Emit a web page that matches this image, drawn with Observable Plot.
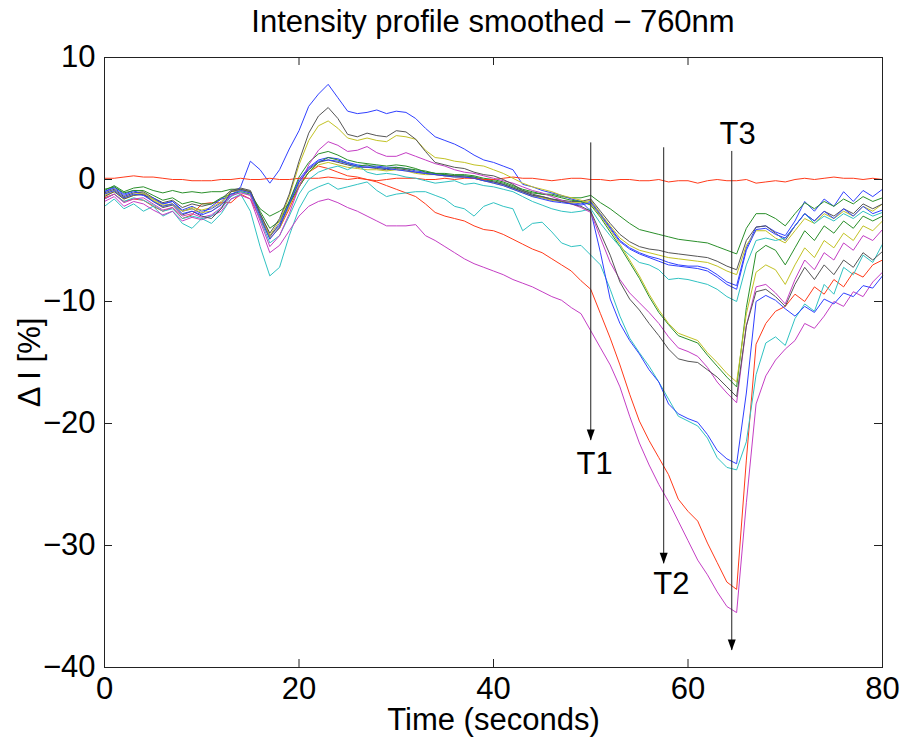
<!DOCTYPE html>
<html>
<head>
<meta charset="utf-8">
<script src="https://cdn.jsdelivr.net/npm/d3@7"></script>
<script src="https://cdn.jsdelivr.net/npm/@observablehq/plot@0.6"></script>
<style>
  html, body { margin: 0; padding: 0; background: #fff; }
  #wrap { width: 900px; height: 742px; position: relative; overflow: hidden; }
  #title { height: 40px; width: 900px; position: relative; }
  #title span { position: absolute; left: 104px; width: 778px; top: 0; line-height: 44px; text-align: center;
    font-family: 'Liberation Sans', Arial, Helvetica, sans-serif; font-size: 31px; color: #000; white-space: nowrap; }
</style>
</head>
<body>
<div id="wrap">
  <div id="title"><span>Intensity profile smoothed − 760nm</span></div>
  <div id="chart"></div>
</div>
<script>
// ---------------- data ----------------
const time = [0,1,2,3,4,5,6,7,8,9,10,11,12,13,14,15,16,17,18,19,20,21,22,23,24,25,26,27,28,29,30,31,32,33,34,35,36,37,38,39,40,41,42,43,44,45,46,47,48,49,50,51,52,53,54,55,56,57,58,59,60,61,62,63,64,65,66,67,68,69,70,71,72,73,74,75,76,77,78,79,80];

const xTicks = [0, 20, 40, 60, 80];
const yTicks = [-40, -30, -20, -10, 0, 10];

// reference channel (flat red)
const refRed = [0.1,0.1,0.2,0.3,0.2,0.2,0.1,0.0,0.0,-0.1,
 -0.1,-0.1,0.0,0.0,0.1,0.0,0.0,0.1,0.0,0.0,
 0.1,0.1,0.1,0.2,0.1,0.0,0.1,0.0,-0.1,0.0,
 0.1,0.1,0.1,0.0,0.0,0.1,0.0,0.1,0.1,0.0,
 0.0,0.1,0.2,0.1,0.1,0.0,-0.1,0.0,0.1,0.1,
 0.0,0.0,-0.1,0.0,0.0,-0.1,-0.1,0.0,-0.2,-0.1,
 -0.1,-0.3,-0.1,0.0,-0.1,-0.1,0.0,-0.3,-0.2,-0.1,
 -0.2,0.0,0.1,0.0,0.1,0.2,0.1,0.1,0.0,0.1,0.0];

// upper group at T3
const greenA = [-0.9,-0.5,-1.0,-0.7,-0.6,-0.9,-1.1,-0.9,-1.1,-1.0,
 -1.1,-1.0,-1.0,-0.8,-0.8,-1.0,-2.6,-4.0,-3.4,-1.8,
 0.2,1.4,2.1,2.3,2.0,1.6,1.4,1.3,1.2,1.1,
 1.2,1.1,0.9,0.6,0.5,0.4,0.3,0.3,0.2,0.0,
 -0.1,-0.3,-0.6,-0.9,-1.1,-1.2,-1.2,-1.4,-1.5,-1.5,
 -1.3,-1.9,-2.4,-3.0,-3.6,-4.1,-4.3,-4.5,-4.7,-4.9,
 -5.0,-5.1,-5.2,-5.5,-5.8,-6.1,-4.0,-2.8,-2.8,-3.2,
 -3.8,-2.8,-1.9,-2.4,-1.8,-2.2,-1.6,-2.0,-1.4,-1.8,-1.5];
const blackA = [-1.1,-0.8,-1.4,-1.1,-1.0,-1.5,-1.9,-1.7,-2.3,-2.0,
 -2.2,-2.0,-1.6,-0.9,-0.7,-0.9,-2.8,-4.6,-3.8,-2.0,
 -0.2,0.8,1.4,1.6,1.4,1.2,1.0,1.0,0.9,0.8,
 0.9,0.8,0.6,0.5,0.4,0.3,0.3,0.2,0.1,-0.1,
 -0.2,-0.4,-0.7,-1.0,-1.3,-1.4,-1.6,-1.7,-1.8,-1.8,
 -1.6,-2.6,-3.6,-4.5,-5.1,-5.5,-5.7,-5.8,-6.0,-6.1,
 -6.2,-6.3,-6.4,-6.7,-7.1,-7.4,-5.0,-3.9,-3.8,-4.4,
 -5.0,-3.8,-2.8,-3.4,-2.6,-3.0,-2.4,-2.8,-2.0,-2.4,-2.0];
const yellowA = [-1.3,-1.0,-1.6,-1.3,-1.2,-1.7,-2.2,-2.0,-2.6,-2.3,
 -2.5,-2.3,-1.8,-1.0,-0.8,-1.0,-3.0,-4.8,-4.0,-2.2,
 -0.4,0.6,1.2,1.4,1.2,1.0,0.9,0.8,0.8,0.7,
 0.8,0.7,0.5,0.4,0.4,0.3,0.2,0.2,0.1,-0.1,
 -0.3,-0.5,-0.8,-1.1,-1.4,-1.5,-1.7,-1.8,-1.9,-1.9,
 -1.7,-2.8,-3.8,-4.8,-5.4,-5.8,-6.0,-6.2,-6.4,-6.5,
 -6.6,-6.7,-6.8,-7.1,-7.5,-7.8,-5.4,-4.2,-4.2,-4.8,
 -5.2,-4.2,-3.2,-3.6,-2.8,-3.2,-2.6,-3.0,-2.2,-2.6,-2.0];
const blueA = [-1.0,-0.7,-1.3,-1.0,-1.1,-1.6,-2.0,-1.8,-2.5,-2.2,
 -2.6,-2.4,-1.9,-1.0,-0.8,-1.0,-2.9,-4.7,-3.6,-1.8,
 0.0,1.0,1.6,1.8,1.7,1.4,1.2,1.1,1.1,1.0,
 1.0,0.9,0.7,0.6,0.5,0.4,0.3,0.3,0.2,0.0,
 -0.2,-0.4,-0.7,-1.0,-1.3,-1.5,-1.7,-1.8,-1.9,-2.0,
 -1.8,-2.8,-3.9,-5.0,-5.6,-6.0,-6.3,-6.5,-6.8,-7.0,
 -7.1,-7.1,-7.3,-7.8,-8.4,-8.7,-5.6,-3.9,-3.8,-4.3,
 -4.6,-3.4,-1.8,-2.6,-1.6,-2.2,-1.0,-1.8,-0.9,-1.4,-0.8];
const blueA2 = [-1.2,-0.9,-1.5,-1.2,-1.3,-1.8,-2.2,-2.0,-2.8,-2.6,
 -2.9,-2.6,-2.1,-1.2,-0.9,-1.1,-3.0,-4.9,-3.9,-2.0,
 -0.2,0.9,1.5,1.6,1.5,1.3,1.1,1.0,1.0,0.9,
 0.8,0.7,0.6,0.5,0.4,0.3,0.2,0.2,0.1,-0.1,
 -0.3,-0.5,-0.8,-1.1,-1.4,-1.6,-1.8,-1.9,-2.0,-2.1,
 -1.9,-2.9,-4.0,-5.1,-5.7,-6.1,-6.4,-6.7,-7.0,-7.1,
 -7.2,-7.3,-7.5,-8.0,-8.6,-9.0,-5.8,-4.1,-4.0,-4.5,
 -4.8,-3.8,-2.8,-3.4,-2.6,-3.2,-2.4,-3.0,-2.2,-2.8,-2.5];
const cyanA = [-1.6,-1.2,-1.8,-1.5,-1.7,-2.1,-2.6,-2.4,-3.2,-3.0,
 -3.2,-3.0,-2.4,-1.4,-1.0,-1.3,-3.2,-5.2,-4.6,-3.0,
 -1.2,0.0,0.6,0.9,1.1,0.8,1.2,0.6,0.4,0.5,
 0.4,0.2,0.1,-0.1,-0.3,-0.2,-0.1,-0.4,-0.3,-0.5,
 -0.6,-0.8,-1.0,-1.4,-1.8,-2.1,-2.4,-2.6,-2.7,-2.6,
 -2.4,-3.6,-4.6,-5.5,-6.2,-6.8,-7.0,-7.4,-8.2,-8.1,
 -8.2,-8.4,-8.6,-9.0,-9.6,-10.0,-7.0,-5.0,-4.8,-5.0,
 -4.8,-3.8,-2.8,-3.6,-3.0,-3.4,-2.8,-3.2,-2.6,-3.0,-2.7];

// middle group at T3
const greenB = [-0.8,-0.6,-1.1,-0.9,-0.9,-1.3,-1.7,-1.5,-2.0,-1.8,
 -2.0,-2.0,-1.5,-1.2,-1.0,-1.2,-2.4,-3.0,-2.6,-2.0,
 -0.6,0.6,1.4,1.8,1.6,1.3,1.1,1.2,1.0,0.9,
 1.0,0.9,0.8,0.7,0.5,0.5,0.4,0.4,0.3,0.1,
 0.0,-0.2,-0.5,-0.8,-1.0,-1.2,-1.3,-1.5,-1.7,-1.8,
 -2.1,-3.1,-4.3,-5.5,-6.8,-8.1,-9.6,-10.9,-11.9,-12.8,
 -13.1,-13.4,-14.4,-15.3,-16.2,-17.0,-10.5,-6.0,-5.4,-5.8,
 -7.0,-5.6,-4.2,-5.0,-3.8,-4.4,-3.4,-4.0,-3.0,-3.4,-3.0];
const yellowB = [-1.2,-0.9,-1.5,-1.2,-1.1,-1.6,-2.1,-2.0,-2.6,-2.4,
 -2.7,-2.6,-2.0,-1.0,-0.9,-1.1,-2.9,-4.6,-3.4,-1.4,
 1.2,3.2,4.4,4.8,4.2,3.4,3.2,3.4,3.2,3.1,
 3.6,3.5,3.3,2.4,1.8,1.7,1.5,1.4,1.2,1.1,
 0.8,0.5,0.1,-0.3,-0.6,-0.8,-1.0,-1.3,-1.5,-1.7,
 -2.0,-3.0,-4.1,-5.3,-6.6,-7.9,-9.4,-10.7,-11.8,-12.6,
 -12.9,-13.2,-14.2,-15.0,-15.9,-16.6,-11.0,-7.6,-7.0,-7.4,
 -8.6,-7.0,-5.6,-6.4,-5.0,-5.6,-4.4,-5.0,-3.8,-4.2,-3.4];
const blackB = [-1.4,-1.0,-1.6,-1.3,-1.2,-1.8,-2.3,-2.1,-2.9,-2.6,
 -3.0,-3.2,-2.4,-1.0,-0.8,-1.0,-2.8,-4.4,-3.2,-1.2,
 1.5,3.8,5.2,5.9,5.0,3.7,3.5,3.8,3.6,3.5,
 4.0,3.9,3.3,2.3,1.4,1.2,1.0,0.9,0.6,0.4,
 0.3,0.0,-0.4,-0.9,-1.2,-1.4,-1.6,-1.8,-2.0,-2.2,
 -2.6,-4.4,-6.2,-8.4,-9.8,-10.7,-11.8,-12.8,-13.9,-14.7,
 -14.9,-15.0,-15.6,-16.2,-17.0,-17.8,-12.0,-9.2,-9.0,-9.6,
 -10.4,-8.6,-7.2,-8.2,-7.0,-7.8,-6.6,-7.2,-6.0,-6.6,-5.9];
const magentaB = [-1.6,-1.2,-1.9,-1.6,-1.5,-2.0,-2.5,-2.3,-3.0,-2.8,
 -3.1,-2.9,-2.3,-1.3,-1.1,-1.3,-3.4,-5.5,-4.6,-2.8,
 -0.6,1.2,2.4,3.1,2.8,2.3,2.4,2.7,2.2,1.9,
 1.9,2.2,1.9,1.6,1.3,1.1,0.8,0.6,0.5,0.3,
 0.1,-0.1,-0.3,-0.6,-0.9,-1.1,-1.4,-1.7,-2.0,-2.3,
 -2.7,-4.8,-6.8,-8.2,-9.3,-10.1,-10.9,-11.8,-12.9,-13.8,
 -14.1,-14.5,-15.4,-16.6,-17.5,-18.3,-12.0,-8.8,-8.6,-9.3,
 -10.2,-8.2,-6.6,-7.4,-6.0,-6.6,-5.2,-5.8,-4.6,-5.0,-4.1];

// lower groups at T3
const blueC = [-1.0,-0.6,-1.2,-0.9,-1.3,-1.5,-2.0,-1.8,-2.6,-2.4,
 -2.8,-2.2,-1.6,-1.4,-0.6,1.5,0.8,-0.3,0.8,2.5,
 4.0,6.0,7.0,7.8,6.7,5.6,5.4,5.5,5.7,5.4,
 5.6,5.5,5.0,4.2,3.5,3.2,2.9,2.5,2.0,1.6,
 1.4,1.1,0.8,-0.4,-0.6,-0.9,-1.1,-1.3,-1.6,-1.8,
 -2.6,-6.0,-9.8,-11.8,-13.2,-14.3,-15.6,-16.6,-18.4,-19.2,
 -19.6,-19.9,-20.9,-22.2,-22.9,-23.3,-17.5,-10.0,-9.5,-9.9,
 -10.6,-11.2,-10.4,-10.9,-9.8,-10.2,-9.3,-9.6,-8.7,-8.9,-7.9];
const cyanC = [-2.2,-1.6,-2.4,-2.0,-2.6,-2.2,-3.0,-2.6,-3.6,-4.0,
 -3.2,-3.6,-2.8,-1.6,-1.2,-2.6,-5.5,-7.9,-7.2,-4.6,
 -2.4,-1.0,-0.6,-0.3,-0.8,-0.6,-0.4,-0.2,-0.9,-1.4,
 -1.2,-1.1,-1.0,-1.0,-1.3,-1.6,-2.2,-2.4,-3.0,-2.2,
 -1.9,-2.2,-2.4,-4.2,-3.6,-3.5,-4.3,-5.2,-5.5,-5.4,
 -6.2,-7.0,-9.0,-11.2,-13.0,-14.2,-15.3,-16.6,-18.0,-19.4,
 -19.8,-20.2,-21.2,-22.8,-23.6,-23.8,-21.5,-16.0,-13.4,-12.9,
 -13.6,-11.4,-10.2,-10.8,-8.6,-9.4,-7.2,-7.8,-6.2,-6.8,-5.3];
const redD = [-1.5,-1.2,-1.8,-1.6,-1.7,-2.2,-2.6,-2.3,-3.2,-2.9,
 -2.0,-1.9,-1.9,-1.9,-1.2,-1.6,-3.2,-4.8,-4.0,-2.4,
 -0.6,0.6,1.1,0.9,0.6,0.3,0.2,0.0,-0.2,-0.5,
 -0.8,-1.1,-1.4,-2.0,-2.7,-3.0,-3.2,-3.4,-3.8,-4.1,
 -4.2,-4.5,-4.9,-5.3,-5.7,-6.0,-6.5,-7.0,-7.5,-8.3,
 -9.0,-11.0,-13.0,-15.2,-17.6,-19.8,-21.4,-22.8,-24.2,-26.2,
 -27.2,-28.0,-29.8,-31.4,-33.0,-33.6,-23.0,-13.5,-11.8,-10.8,
 -10.4,-9.4,-10.0,-8.8,-9.4,-8.2,-8.8,-7.6,-8.0,-7.0,-6.6];
const magentaD = [-1.8,-1.4,-2.2,-1.8,-2.0,-2.5,-2.9,-2.6,-3.4,-3.1,
 -3.3,-3.0,-2.6,-1.6,-1.3,-1.6,-3.8,-6.0,-5.4,-4.2,
 -3.0,-2.2,-1.8,-1.6,-1.9,-2.3,-2.6,-3.0,-3.4,-3.8,
 -3.8,-3.8,-3.7,-4.6,-5.0,-5.5,-6.0,-6.5,-6.9,-7.2,
 -7.5,-7.8,-8.2,-8.5,-8.8,-9.2,-9.6,-9.9,-10.5,-11.0,
 -12.4,-13.8,-15.2,-17.0,-19.4,-21.6,-23.4,-25.0,-26.4,-28.0,
 -29.6,-31.2,-32.4,-33.8,-35.0,-35.5,-26.5,-18.4,-16.1,-14.8,
 -13.9,-13.2,-11.8,-12.2,-11.2,-10.0,-10.4,-9.2,-9.6,-8.4,-7.6];

// time markers
const markerNames = ["T1", "T2", "T3"];
const markerTime = [50.0, 57.5, 64.5];
const markerTop = [3.0, 2.6, 2.3];
const markerTip = [-21.4, -31.5, -38.6];
const labelTime = [50.4, 58.3, 65.1];
const labelValue = [-23.3, -33.2, 3.7];

// ---------------- styles ----------------
const C = {
  blue: "#3040ff", green: "#2a8f2a", red: "#ff3a1a", cyan: "#30c2c2",
  magenta: "#c43ec4", yellow: "#c2c224", black: "#555555"
};

const seriesList = [
  {values: blueA,    color: C.blue},
  {values: greenA,   color: C.green},
  {values: redD,     color: C.red},
  {values: cyanC,    color: C.cyan},
  {values: magentaD, color: C.magenta},
  {values: yellowA,  color: C.yellow},
  {values: blackA,   color: C.black},
  {values: blueC,    color: C.blue},
  {values: greenB,   color: C.green},
  {values: refRed,   color: C.red},
  {values: cyanA,    color: C.cyan},
  {values: magentaB, color: C.magenta},
  {values: yellowB,  color: C.yellow},
  {values: blackB,   color: C.black},
  {values: blueA2,   color: C.blue}
];

const markers = markerNames.map((name, i) => ({
  name, t: markerTime[i], top: markerTop[i], tip: markerTip[i], lt: labelTime[i], lv: labelValue[i]
}));

const W = 900, H = 702, mL = 104, mR = 18, mT = 17, mB = 75;
const innerW = W - mL - mR, innerH = H - mT - mB;
const tickLen = 8;
const font = "'Liberation Sans', Arial, Helvetica, sans-serif";

const arrowHead = {
  draw(ctx) { ctx.moveTo(0, 0); ctx.lineTo(-4, -11); ctx.lineTo(4, -11); ctx.closePath(); }
};

const lineMarks = seriesList.map(s =>
  Plot.line(time.map((t, i) => ({t, v: s.values[i]})), {
    x: "t", y: "v", stroke: s.color, strokeWidth: 1, curve: "linear"
  })
);

const chart = Plot.plot({
  width: W, height: H,
  marginLeft: mL, marginRight: mR, marginTop: mT, marginBottom: mB,
  style: {fontFamily: font, fontSize: "31px", color: "#000", background: "#fff", overflow: "visible"},
  x: {domain: [0, 80], ticks: xTicks, tickSize: 0, tickPadding: 9, label: null},
  y: {domain: [-40, 10], ticks: yTicks, tickSize: 0, tickPadding: 9, label: null},
  marks: [
    ...lineMarks,
    Plot.ruleX(xTicks, {x: d => d, insetTop: innerH - tickLen, stroke: "#222"}),
    Plot.ruleX(xTicks, {x: d => d, insetBottom: innerH - tickLen, stroke: "#222"}),
    Plot.ruleY(yTicks, {y: d => d, insetRight: innerW - tickLen, stroke: "#222"}),
    Plot.ruleY(yTicks, {y: d => d, insetLeft: innerW - tickLen, stroke: "#222"}),
    Plot.frame({stroke: "#222"}),
    Plot.ruleX(markers, {x: "t", y1: "top", y2: "tip", stroke: "#222", strokeWidth: 1}),
    Plot.dot(markers, {x: "t", y: "tip", symbol: arrowHead, r: 5, fill: "#000", stroke: "none"}),
    Plot.text(markers, {x: "lt", y: "lv", text: "name", fontSize: 31, fill: "#000", lineAnchor: "middle"}),
    Plot.text(["Time (seconds)"], {text: d => d, frameAnchor: "bottom", dy: 53, lineAnchor: "middle", fontSize: 31}),
    Plot.text(["Δ I [%]"], {text: d => d, frameAnchor: "left", dx: -74, rotate: -90, textAnchor: "middle", lineAnchor: "middle", fontSize: 31})
  ]
});

document.getElementById("chart").appendChild(chart);
</script>
</body>
</html>
